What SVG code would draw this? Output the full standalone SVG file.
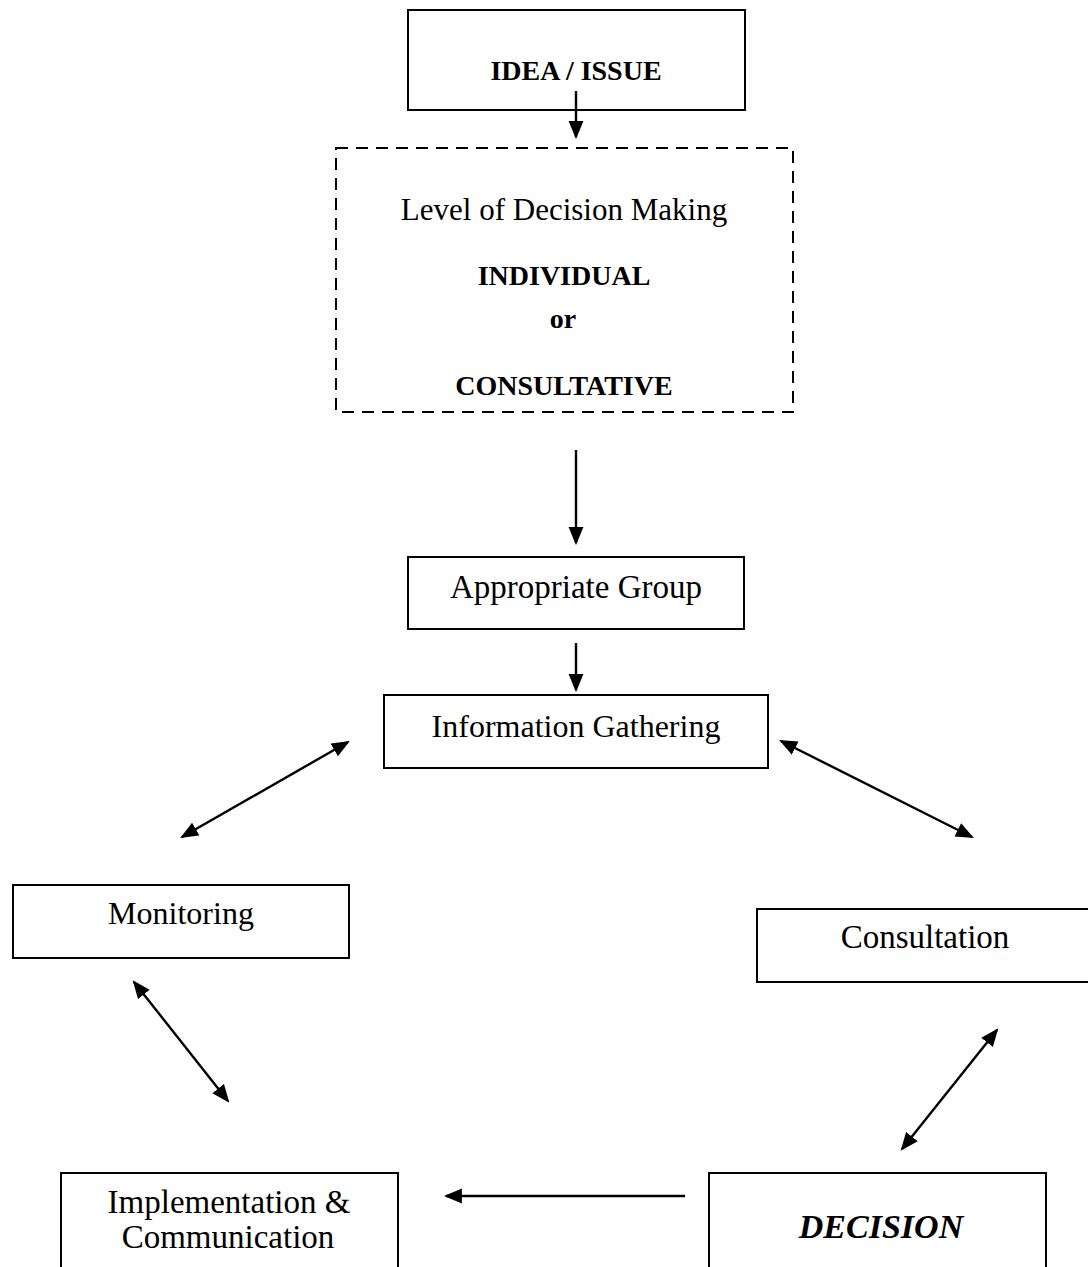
<svg xmlns="http://www.w3.org/2000/svg" width="1088" height="1267" viewBox="0 0 1088 1267">
<style>
.box{fill:#fff;stroke:#000;stroke-width:2}
.dash{fill:#fff;stroke:#000;stroke-width:2;stroke-dasharray:12 8}
.t{font-family:"Liberation Serif",serif;fill:#000;text-anchor:middle}
.c{font-size:33px}
.b{font-size:28px;font-weight:bold}
.conn{stroke:#000;stroke-width:2.4;fill:none}
</style>
<defs>
<marker id="ah" markerUnits="userSpaceOnUse" markerWidth="18" markerHeight="16" refX="15" refY="7" orient="auto-start-reverse" viewBox="0 0 17 14">
<path d="M0,0 L17,7 L0,14 z" fill="#000"/>
</marker>
</defs>
<rect width="1088" height="1267" fill="#fff"/>
<g id="idea">
<rect class="box" x="408" y="10" width="337" height="100"/>
<text class="t b" x="576" y="80">IDEA / ISSUE</text>
</g>
<g id="level">
<rect class="dash" x="336" y="148" width="457" height="264"/>
<text class="t" style="font-size:31px" x="564" y="220">Level of Decision Making</text>
<text class="t b" x="564" y="285">INDIVIDUAL</text>
<text class="t b" x="563" y="328">or</text>
<text class="t b" x="564" y="395">CONSULTATIVE</text>
</g>
<g id="group">
<rect class="box" x="408" y="557" width="336" height="72"/>
<text class="t c" x="576" y="598">Appropriate Group</text>
</g>
<g id="info">
<rect class="box" x="384" y="695" width="384" height="73"/>
<text class="t" style="font-size:32px" x="576" y="737">Information Gathering</text>
</g>
<g id="monitoring">
<rect class="box" x="13" y="885" width="336" height="73"/>
<text class="t" style="font-size:32px" x="181" y="924">Monitoring</text>
</g>
<g id="consultation">
<rect class="box" x="757" y="909" width="332" height="73"/>
<text class="t c" x="925" y="948">Consultation</text>
</g>
<g id="implementation">
<rect class="box" x="61" y="1173" width="337" height="120"/>
<text class="t c" x="229" y="1213">Implementation &amp;</text>
<text class="t c" x="228" y="1248">Communication</text>
</g>
<g id="decision">
<rect class="box" x="709" y="1173" width="337" height="120"/>
<text class="t" style="font-size:34px;font-weight:bold;font-style:italic" x="881" y="1238">DECISION</text>
</g>
<g id="connectors">
<line class="conn" x1="576" y1="91" x2="576" y2="137" marker-end="url(#ah)"/>
<line class="conn" x1="576" y1="450" x2="576" y2="543" marker-end="url(#ah)"/>
<line class="conn" x1="576" y1="643" x2="576" y2="690" marker-end="url(#ah)"/>
<line class="conn" x1="348" y1="742" x2="182" y2="837" marker-start="url(#ah)" marker-end="url(#ah)"/>
<line class="conn" x1="781" y1="741" x2="972" y2="837" marker-start="url(#ah)" marker-end="url(#ah)"/>
<line class="conn" x1="134" y1="982" x2="228" y2="1101" marker-start="url(#ah)" marker-end="url(#ah)"/>
<line class="conn" x1="997" y1="1030" x2="902" y2="1149" marker-start="url(#ah)" marker-end="url(#ah)"/>
<line class="conn" x1="685" y1="1196" x2="446" y2="1196" marker-end="url(#ah)"/>
</g>
</svg>
